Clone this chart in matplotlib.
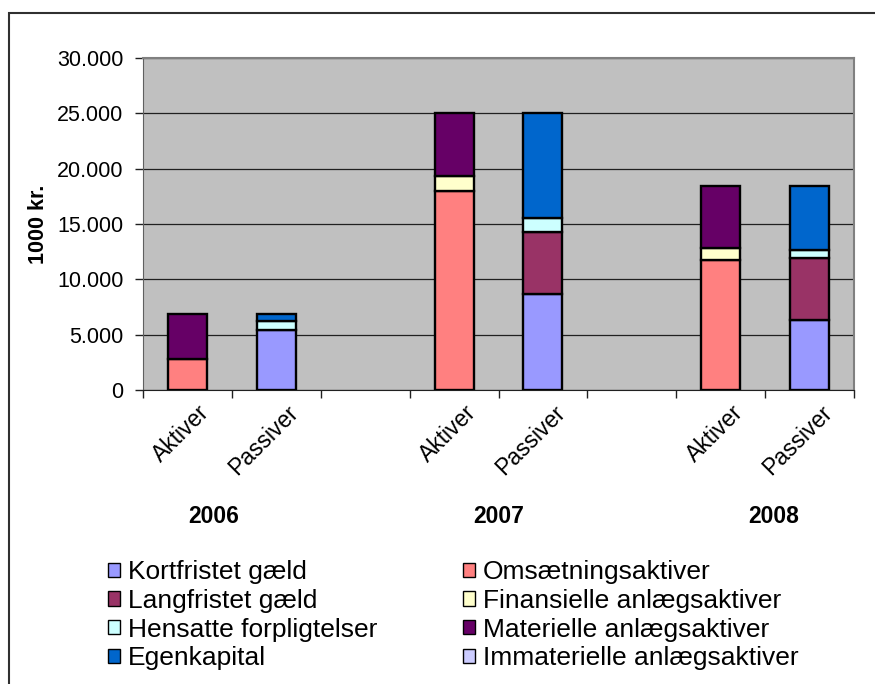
import numpy as np
import matplotlib
matplotlib.use("Agg")
import matplotlib.pyplot as plt
from matplotlib.patches import Patch, Rectangle
from matplotlib.ticker import FuncFormatter, MultipleLocator

plt.rcParams['font.family'] = ['Liberation Sans', 'DejaVu Sans']

# Data (1000 kr.)
categories = ['Aktiver', 'Passiver', '', 'Aktiver', 'Passiver', '', 'Aktiver', 'Passiver']
years = ['2006', '2007', '2008']
year_pos = [0.3, 3.5, 6.6]

kortfristet = [0, 5400, 0, 0, 8670, 0, 0, 6320]
omsaetning = [2800, 0, 0, 18000, 0, 0, 11750, 0]
langfristet = [0, 0, 0, 0, 5570, 0, 0, 5580]
finansielle = [0, 0, 0, 1300, 0, 0, 1080, 0]
hensatte = [0, 850, 0, 0, 1300, 0, 0, 750]
materielle = [4100, 0, 0, 5700, 0, 0, 5600, 0]
egenkapital = [0, 650, 0, 0, 9460, 0, 0, 5780]
immaterielle = [0, 0, 0, 0, 0, 0, 0, 0]

# stacking order (same as legend, row by row)
series = [
    ('Kortfristet gæld', kortfristet, '#9999FF'),
    ('Omsætningsaktiver', omsaetning, '#FF8080'),
    ('Langfristet gæld', langfristet, '#993366'),
    ('Finansielle anlægsaktiver', finansielle, '#FFFFCC'),
    ('Hensatte forpligtelser', hensatte, '#CCFFFF'),
    ('Materielle anlægsaktiver', materielle, '#660066'),
    ('Egenkapital', egenkapital, '#0066CC'),
    ('Immaterielle anlægsaktiver', immaterielle, '#CCCCFF'),
]

fig = plt.figure(figsize=(8.75, 6.84), dpi=100)
ax = fig.add_axes([143 / 875, 1 - 390 / 684, (854 - 143) / 875, (390 - 58) / 684])
ax.set_facecolor('#C0C0C0')

x = np.arange(len(categories))
bottom = np.zeros(len(categories))
for name, vals, col in series:
    vals = np.array(vals, dtype=float)
    idx = vals > 0
    ax.bar(x[idx], vals[idx], width=0.44, bottom=bottom[idx], color=col,
           edgecolor='black', linewidth=1.7, zorder=3)
    bottom += vals

ax.set_xlim(-0.5, len(categories) - 0.5)
ax.set_ylim(0, 30000)
ax.yaxis.set_major_locator(MultipleLocator(5000))
ax.yaxis.set_major_formatter(FuncFormatter(lambda v, p: f"{int(v):,}".replace(',', '.')))
ax.grid(axis='y', color='#202020', linewidth=0.9, zorder=1)
ax.set_axisbelow(True)

ax.set_xticks(np.arange(len(categories) + 1) - 0.5, minor=False)
ax.set_xticklabels([])
ax.set_xticks(x + 0.12, minor=True)
ax.set_xticklabels(categories, minor=True, rotation=45, ha='right',
                   rotation_mode='anchor', fontsize=16.5)
ax.tick_params(axis='x', which='minor', length=0, pad=8)
ax.tick_params(axis='x', which='major', length=6, width=1, color='#202020')
ax.tick_params(axis='y', length=6, width=1, color='#202020', labelsize=15.5, pad=8)

for s in ['top', 'right']:
    ax.spines[s].set_color('#808080')
    ax.spines[s].set_linewidth(1.5)
ax.spines['left'].set_color('#606060')
ax.spines['bottom'].set_color('#202020')

ax.set_ylabel('1000 kr.', fontsize=15.5, fontweight='bold', labelpad=6)

for yr, xp in zip(years, year_pos):
    ax.text(xp, -0.38, yr, transform=ax.get_xaxis_transform(), ha='center',
            va='center', fontsize=16.5, fontweight='bold')

handles = [Patch(facecolor=col, edgecolor='black', linewidth=1) for _, _, col in series]
labels = [name for name, _, _ in series]
order = [0, 2, 4, 6, 1, 3, 5, 7]
fig.legend([handles[i] for i in order], [labels[i] for i in order],
           loc='upper left', bbox_to_anchor=(95 / 875, 1 - 547 / 684),
           ncol=2, frameon=False, fontsize=19, borderpad=0,
           handlelength=0.45, handleheight=0.45, handletextpad=0.3,
           labelspacing=0.18, columnspacing=3.25)

# outer frame of the chart object (cut off at right and bottom)
fig.patches.append(Rectangle((8.5 / 875, -0.05), 1.0, 1 - 12.5 / 684 + 0.05,
                             transform=fig.transFigure, fill=False,
                             edgecolor='#303030', linewidth=1.5))

fig.savefig('out.png', dpi=100)
